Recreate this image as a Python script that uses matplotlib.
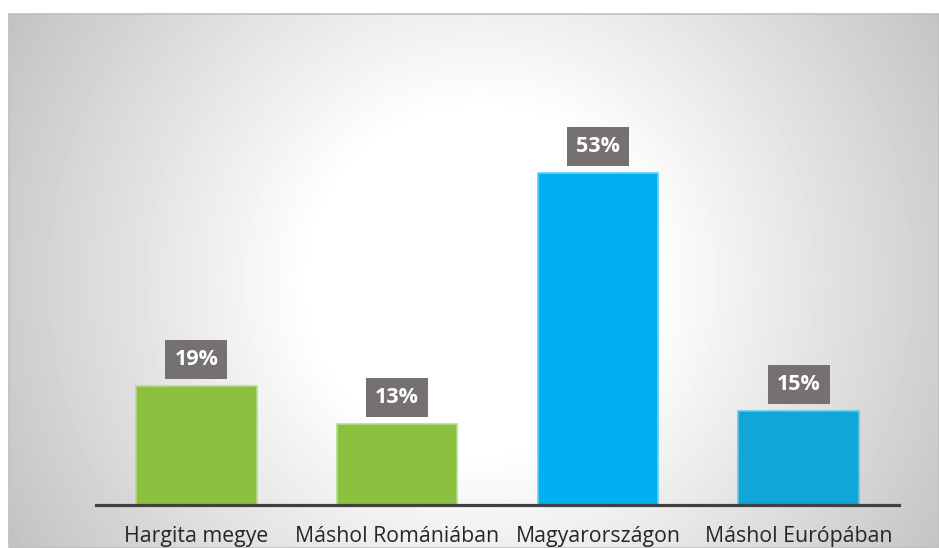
import matplotlib
matplotlib.use("Agg")
import matplotlib.pyplot as plt
import numpy as np
from matplotlib.patches import Rectangle

categories = ['Hargita megye', 'Máshol Romániában', 'Magyarországon', 'Máshol Európában']
values = [19, 13, 53, 15]
bar_colors = ['#8cc13f', '#8cc13f', '#00b0f0', '#10a6d8']
edge_colors = ['#b4dc86', '#b4dc86', '#62cff6', '#62c6ea']

plt.rcParams['font.family'] = ['Open Sans', 'DejaVu Sans']

W, H = 939, 548
fig = plt.figure(figsize=(W / 100, H / 100), dpi=100)

# radial gradient background (chart area starts at x=9, y=14)
x0, y0 = 9, 14
bg = fig.add_axes([x0 / W, 0, (W - x0) / W, (H - y0) / H], zorder=0)
xx, yy = np.meshgrid(np.arange(x0, W), np.arange(y0, H))
r = np.hypot(xx - 480, yy - 280)
shade = 255 - np.clip((r - 170) / 360, 0, 1) * 59
bg.imshow(shade, cmap='gray', vmin=0, vmax=255, aspect='auto', interpolation='bilinear')
bg.axis('off')
fig.add_artist(Rectangle((x0 / W, 0), (W - x0) / W, (H - y0) / H, transform=fig.transFigure,
                         fill=False, edgecolor='#bfbfbf', linewidth=1.2, zorder=1))

# plot axes
left, right = 96, 899
base, top = 505, 505 - 60 * 6.26
ax = fig.add_axes([left / W, (H - base) / H, (right - left) / W, (base - top) / H], zorder=2)
ax.patch.set_alpha(0)

xpos = np.arange(len(categories))
ax.bar(xpos, values, width=0.6, color=bar_colors, edgecolor=edge_colors, linewidth=1.2)
ax.set_xlim(-0.5, len(categories) - 0.5)
ax.set_ylim(0, 60)

for x, v in zip(xpos, values):
    ax.annotate(f'{v}%', (x, v), xytext=(0, 19), textcoords='offset points',
                ha='center', va='center', color='white', fontsize=15.5, fontweight='bold',
                bbox=dict(boxstyle='square,pad=0.42', facecolor='#767171', edgecolor='none'))

for s in ['top', 'left', 'right']:
    ax.spines[s].set_visible(False)
ax.spines['bottom'].set_color('#404040')
ax.spines['bottom'].set_linewidth(2.3)
ax.set_yticks([])
ax.set_xticks(xpos)
ax.set_xticklabels(categories, fontsize=15.3, color='#262626')
ax.tick_params(axis='x', length=0, pad=15)

fig.savefig('out.png', dpi=100)
